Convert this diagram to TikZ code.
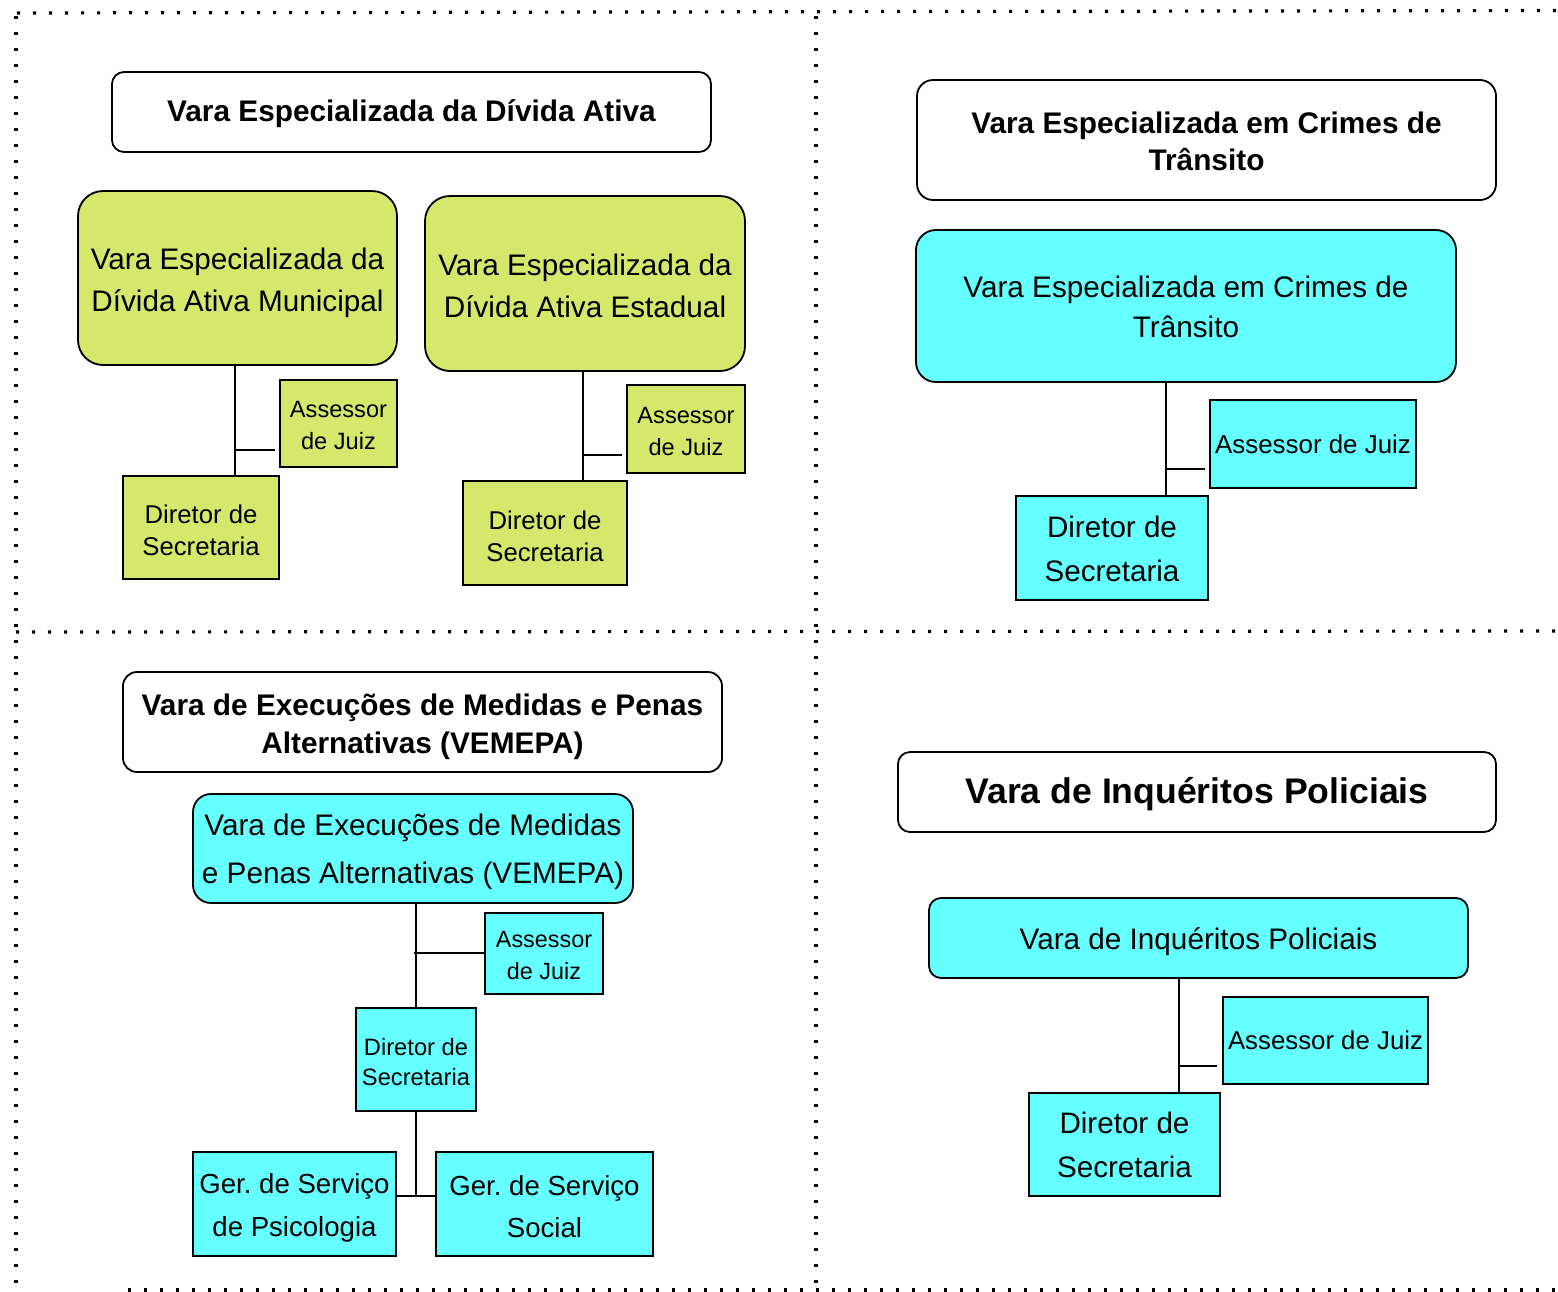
\documentclass[tikz,border=0pt]{standalone}
\usepackage{fontspec}
\setmainfont{Liberation Sans}
\frenchspacing
\definecolor{vgreen}{RGB}{213,232,107}
\definecolor{vcyan}{RGB}{102,255,255}
\begin{document}
\begin{tikzpicture}[x=1pt,y=-1pt,
  box/.style={draw, line width=1.8pt, inner sep=0pt},
  titlebox/.style={box, fill=white, rounded corners=12pt},
  gbox/.style={box, fill=vgreen},
  cbox/.style={box, fill=vcyan},
  tx/.style={align=center, inner sep=0pt, text=black},
  conn/.style={line width=1.8pt},
  dotline/.style={line width=3.2pt, dash pattern=on 3.2pt off 12.8pt},
  fbold/.style={font=\fontsize{29.8}{37}\selectfont\bfseries},
  fbig/.style={font=\fontsize{29.7}{42}\selectfont},
]
\useasboundingbox (0,0) rectangle (1558,1291);
% dotted separators
\draw[dotline] (17,13) -- (1558,10.5);
\draw[dotline] (16,16) -- (16,1291);
\draw[dotline] (816,16) -- (816,1291);
\draw[dotline] (16,632) -- (1558,631);
\draw[dotline] (128,1290) -- (1558,1290);

% ---------- top-left ----------
\node[titlebox, minimum width=599, minimum height=80] (t1) at (411.5,112) {};
\node[tx, fbold] (t1t) at ([yshift=-2pt]t1.center) {Vara Especializada da Dívida Ativa};
\node[gbox, rounded corners=25pt, minimum width=319, minimum height=174] (g1) at (237.5,278) {};
\node[tx, fbig] (g1t) at ([yshift=-5pt]g1.center) {Vara Especializada da\\Dívida Ativa Municipal};
\node[gbox, rounded corners=25pt, minimum width=320, minimum height=175] (g2) at (585,283.5) {};
\node[tx, fbig] (g2t) at ([yshift=-2.5pt]g2.center) {Vara Especializada da\\Dívida Ativa Estadual};
\node[gbox, minimum width=117, minimum height=87] (a1) at (338.5,423.5) {};
\node[tx, font=\fontsize{23.6}{32}\selectfont] (a1t) at ([yshift=-2pt]a1.center) {Assessor\\de Juiz};
\node[gbox, minimum width=156, minimum height=103] (d1) at (201,527.5) {};
\node[tx, font=\fontsize{25.7}{32}\selectfont] (d1t) at ([yshift=-3pt]d1.center) {Diretor de\\Secretaria};
\node[gbox, minimum width=118, minimum height=88] (a2) at (686,429) {};
\node[tx, font=\fontsize{23.6}{32}\selectfont] (a2t) at ([yshift=-2pt]a2.center) {Assessor\\de Juiz};
\node[gbox, minimum width=164, minimum height=104] (d2) at (545,533) {};
\node[tx, font=\fontsize{25.7}{32}\selectfont] (d2t) at ([yshift=-3pt]d2.center) {Diretor de\\Secretaria};
\coordinate (j1) at (235,450);
\coordinate (j2) at (583,455);
\draw[conn] (j1 |- g1.south) -- (j1 |- d1.north);
\draw[conn, shorten >=4pt] (j1) -- (a1.west |- j1);
\draw[conn] (j2 |- g2.south) -- (j2 |- d2.north);
\draw[conn, shorten >=4pt] (j2) -- (a2.west |- j2);

% ---------- top-right ----------
\node[titlebox, minimum width=579, minimum height=120, rounded corners=16pt] (t2) at (1206.5,140) {};
\node[tx, fbold] (t2t) at ([yshift=-1.5pt]t2.center) {Vara Especializada em Crimes de\\Trânsito};
\node[cbox, rounded corners=20pt, minimum width=540, minimum height=152] (c1) at (1186,306) {};
\node[tx, font=\fontsize{29.7}{40}\selectfont] (c1t) at ([yshift=-1pt]c1.center) {Vara Especializada em Crimes de\\Trânsito};
\node[cbox, minimum width=206, minimum height=88] (a3) at (1313,444) {};
\node[tx, font=\fontsize{25.9}{32}\selectfont] (a3t) at (a3.center) {Assessor de Juiz};
\node[cbox, minimum width=192, minimum height=104] (d3) at (1112,548) {};
\node[tx, font=\fontsize{29.6}{44}\selectfont] (d3t) at ([yshift=-1pt]d3.center) {Diretor de\\Secretaria};
\coordinate (j3) at (1166,469);
\draw[conn] (j3 |- c1.south) -- (j3 |- d3.north);
\draw[conn, shorten >=4pt] (j3) -- (a3.west |- j3);

% ---------- bottom-left ----------
\node[titlebox, minimum width=599, minimum height=100, rounded corners=14pt] (t3) at (422.5,722) {};
\node[tx, font=\fontsize{29.8}{38}\selectfont\bfseries] (t3t) at ([yshift=-5pt]t3.center) {Vara de Execuções de Medidas e Penas\\Alternativas (VEMEPA)};
\node[cbox, rounded corners=18pt, minimum width=440, minimum height=109] (c2) at (413,848.5) {};
\node[tx, font=\fontsize{29.7}{48}\selectfont] (c2t) at ([yshift=-3pt]c2.center) {Vara de Execuções de Medidas\\e Penas Alternativas (VEMEPA)};
\node[cbox, minimum width=118, minimum height=81] (a4) at (544,953.5) {};
\node[tx, font=\fontsize{23.4}{32}\selectfont] (a4t) at ([yshift=-2pt]a4.center) {Assessor\\de Juiz};
\node[cbox, minimum width=120, minimum height=103] (d4) at (416,1059.5) {};
\node[tx, font=\fontsize{23.7}{30}\selectfont] (d4t) at ([yshift=-3pt]d4.center) {Diretor de\\Secretaria};
\node[cbox, minimum width=203, minimum height=104] (p1) at (294.5,1204) {};
\node[tx, font=\fontsize{27.6}{43}\selectfont] (p1t) at ([yshift=-3.5pt]p1.center) {Ger. de Serviço\\de Psicologia};
\node[cbox, minimum width=217, minimum height=104] (s1) at (544.5,1204) {};
\node[tx, font=\fontsize{27.6}{42}\selectfont] (s1t) at ([yshift=-3pt]s1.center) {Ger. de Serviço\\Social};
\coordinate (j4) at (416,953);
\coordinate (j5) at (416,1196);
\draw[conn] (j4 |- c2.south) -- (j4 |- d4.north);
\draw[conn] ([xshift=-2pt]j4) -- (a4.west |- j4);
\draw[conn] (d4.south -| j5) -- (j5);
\draw[conn] (p1.east |- j5) -- (s1.west |- j5);

% ---------- bottom-right ----------
\node[titlebox, minimum width=598, minimum height=80] (t4) at (1197,792) {};
\node[tx, font=\fontsize{35.6}{42}\selectfont\bfseries] (t4t) at ([yshift=-2pt]t4.center) {Vara de Inquéritos Policiais};
\node[cbox, rounded corners=12pt, minimum width=539, minimum height=80] (c3) at (1198.5,938) {};
\node[tx, font=\fontsize{29.7}{40}\selectfont] (c3t) at ([yshift=-4pt]c3.center) {Vara de Inquéritos Policiais};
\node[cbox, minimum width=205, minimum height=87] (a5) at (1325.5,1040.5) {};
\node[tx, font=\fontsize{25.8}{32}\selectfont] (a5t) at (a5.center) {Assessor de Juiz};
\node[cbox, minimum width=191, minimum height=103] (d5) at (1124.5,1144.5) {};
\node[tx, font=\fontsize{29.6}{44}\selectfont] (d5t) at (d5.center) {Diretor de\\Secretaria};
\coordinate (j6) at (1179,1066);
\draw[conn] (j6 |- c3.south) -- (j6 |- d5.north);
\draw[conn, shorten >=5pt] (j6) -- (a5.west |- j6);
\end{tikzpicture}
\end{document}
